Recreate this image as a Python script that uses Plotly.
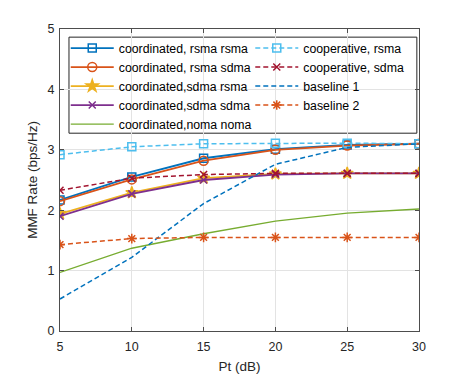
import plotly.graph_objects as go

# transmit power (dB)
pt = [5, 10, 15, 20, 25, 30]

# MMF rate (bps/Hz)
coord_rsma_rsma = [2.17, 2.55, 2.86, 3.01, 3.08, 3.10]
coord_rsma_sdma = [2.15, 2.51, 2.82, 3.00, 3.07, 3.10]
coord_sdma_rsma = [1.94, 2.29, 2.53, 2.60, 2.61, 2.61]
coord_sdma_sdma = [1.90, 2.27, 2.50, 2.59, 2.61, 2.61]
coord_noma_noma = [0.97, 1.37, 1.61, 1.82, 1.95, 2.02]
coop_rsma = [2.92, 3.05, 3.10, 3.11, 3.11, 3.10]
coop_sdma = [2.33, 2.53, 2.59, 2.61, 2.61, 2.61]
baseline1 = [0.53, 1.22, 2.11, 2.76, 3.04, 3.10]
baseline2 = [1.43, 1.53, 1.55, 1.55, 1.55, 1.55]

names = ["coordinated, rsma rsma", "coordinated, rsma sdma", "coordinated,sdma rsma",
         "coordinated,sdma sdma", "coordinated,noma noma", "cooperative, rsma",
         "cooperative, sdma", "baseline 1", "baseline 2"]
series = [coord_rsma_rsma, coord_rsma_sdma, coord_sdma_rsma, coord_sdma_sdma,
          coord_noma_noma, coop_rsma, coop_sdma, baseline1, baseline2]

# colour, dash, marker symbol, marker size, line width
styles = [
    ("#0072BD", "solid", "square-open", 8, 1.8),
    ("#D95319", "solid", "circle-open", 9, 1.8),
    ("#EDB120", "solid", "star", 9, 1.8),
    ("#7E2F8E", "solid", "x-thin-open", 7, 1.8),
    ("#77AC30", "solid", None, 0, 1.3),
    ("#4DBEEE", "5px,3px", "square-open", 8, 1.5),
    ("#A2142F", "5px,3px", "x-thin-open", 7, 1.5),
    ("#0072BD", "5px,3px", None, 0, 1.5),
    ("#D95319", "5px,3px", "asterisk-open", 8, 1.5),
]
# first five in the left legend column, the rest in the right one
columns = ["legend"] * 5 + ["legend2"] * 4

fig = go.Figure()
for name, y, (col, dash, sym, ms, lw), lg in zip(names, series, styles, columns):
    if sym:
        mode = "lines+markers"
        marker = dict(symbol=sym, size=ms, color=col, line=dict(color=col, width=1.5))
    else:
        mode = "lines"
        marker = None
    fig.add_trace(go.Scatter(x=pt, y=y, name=name, mode=mode, marker=marker,
                             line=dict(color=col, width=lw, dash=dash), legend=lg))

axis_common = dict(
    showline=True, linecolor="#4d4d4d", linewidth=1, mirror="ticks",
    ticks="inside", ticklen=4, tickcolor="#4d4d4d",
    showgrid=True, gridcolor="#e3e3e3", gridwidth=1, zeroline=False,
    tickfont=dict(size=12.5, color="#262626"),
)

legend_common = dict(yanchor="top", xanchor="left", y=0.985, bgcolor="rgba(0,0,0,0)",
                     borderwidth=0, itemwidth=43, traceorder="normal",
                     font=dict(size=12.3, color="#000000"))

fig.update_layout(
    width=455, height=366,
    margin=dict(l=52, r=44, t=21, b=43, autoexpand=False),
    paper_bgcolor="white", plot_bgcolor="white",
    font=dict(family="Liberation Sans, Arial, sans-serif", color="#262626"),
    xaxis=dict(range=[5, 30], tickvals=[5, 10, 15, 20, 25, 30], ticklabelstandoff=4,
               title=dict(text="Pt (dB)", font=dict(size=13.5), standoff=12),
               **axis_common),
    yaxis=dict(range=[0, 5], tickvals=[0, 1, 2, 3, 4, 5], ticklabelstandoff=2,
               title=dict(text="MMF Rate (bps/Hz)", font=dict(size=13.5), standoff=6),
               **axis_common),
    legend=dict(x=0.016, **legend_common),
    legend2=dict(x=0.53, **legend_common),
    # frame drawn round both legend columns
    shapes=[dict(type="rect", xref="paper", yref="paper",
                 x0=0.025, x1=0.994, y0=0.655, y1=0.973,
                 line=dict(color="#262626", width=1), fillcolor="white", layer="below")],
)

fig.write_html("out.html")
